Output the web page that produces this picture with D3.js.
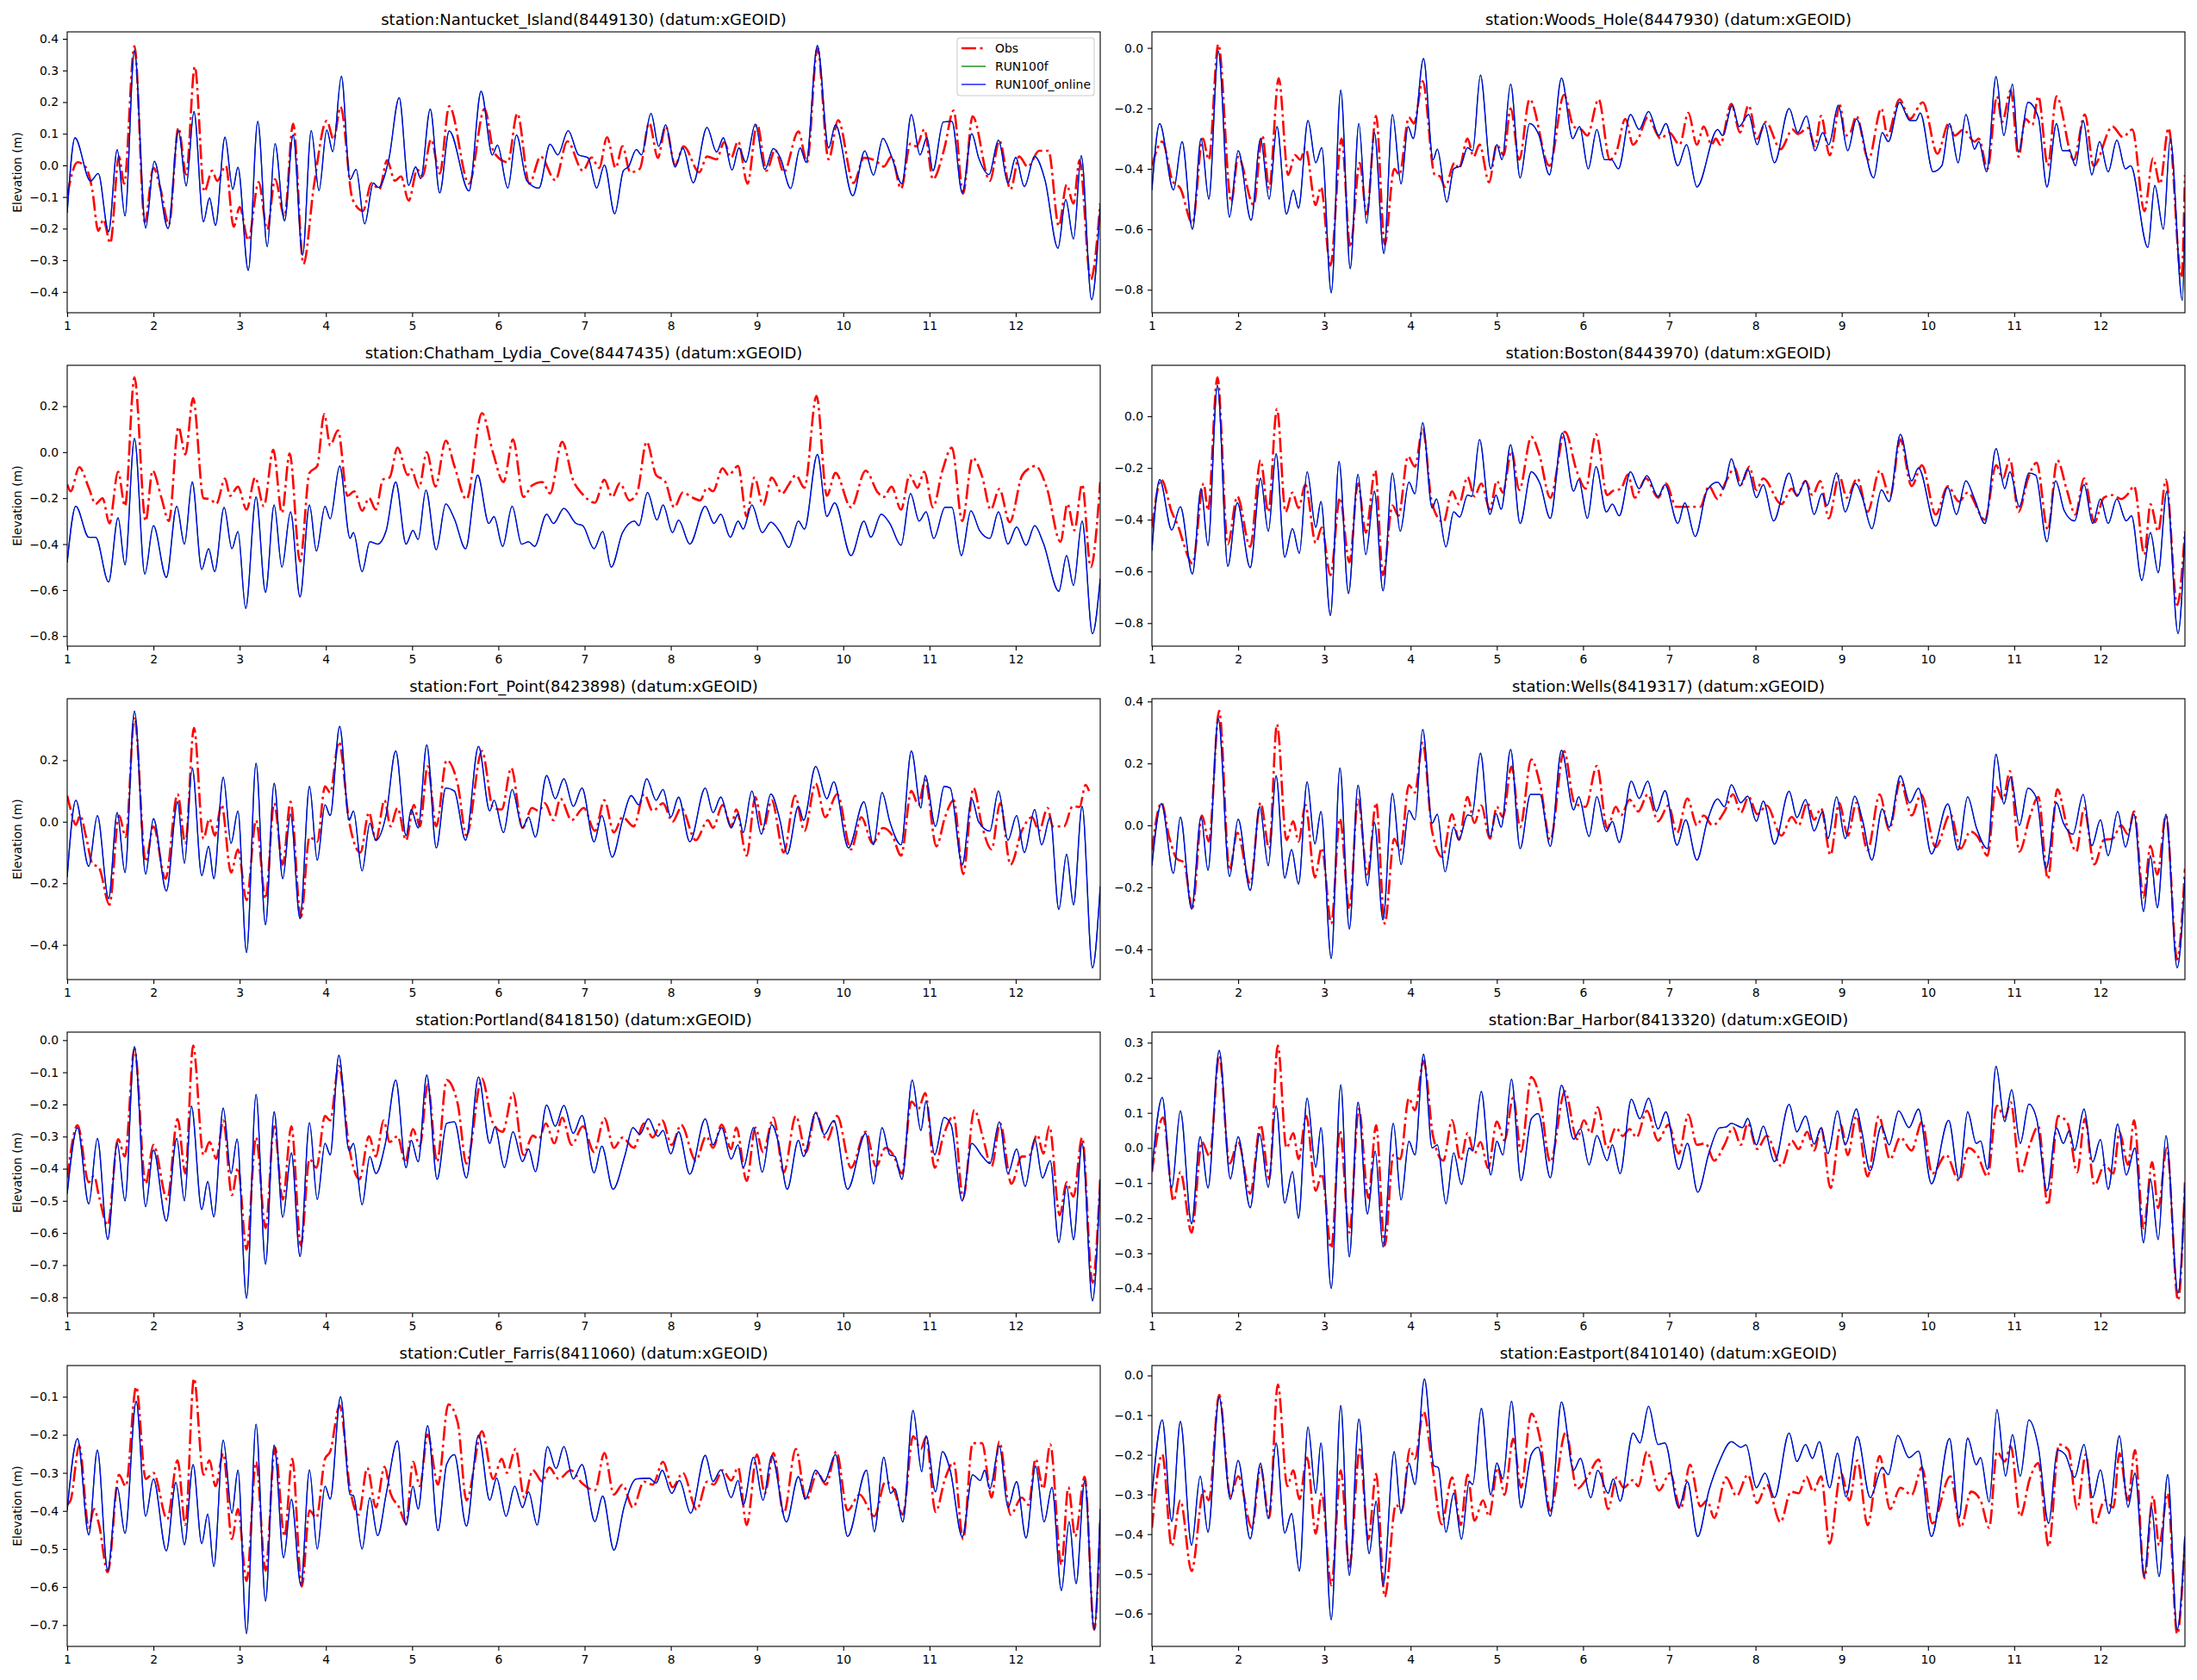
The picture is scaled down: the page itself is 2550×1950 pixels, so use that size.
<!DOCTYPE html>
<html><head><meta charset="utf-8">
<script src="https://cdn.jsdelivr.net/npm/d3@7"></script>
<style>
html,body{margin:0;padding:0;background:#fff;}
svg{display:block;font-family:"DejaVu Sans",sans-serif;}
</style></head>
<body><svg id="chart" width="2550" height="1950"></svg>
<script>
// ---------------- data ----------------
const seriesNames = ["Obs", "RUN100f", "RUN100f_online"];
const xTicks = [1,2,3,4,5,6,7,8,9,10,11,12];
const xDomain = [1, 12.98];

const stationTitles = [
  "station:Nantucket_Island(8449130) (datum:xGEOID)",
  "station:Woods_Hole(8447930) (datum:xGEOID)",
  "station:Chatham_Lydia_Cove(8447435) (datum:xGEOID)",
  "station:Boston(8443970) (datum:xGEOID)",
  "station:Fort_Point(8423898) (datum:xGEOID)",
  "station:Wells(8419317) (datum:xGEOID)",
  "station:Portland(8418150) (datum:xGEOID)",
  "station:Bar_Harbor(8413320) (datum:xGEOID)",
  "station:Cutler_Farris(8411060) (datum:xGEOID)",
  "station:Eastport(8410140) (datum:xGEOID)"
];
const yLimits = [
  [-0.466,0.422],[-0.876,0.053],[-0.844,0.378],[-0.889,0.197],[-0.513,0.40],
  [-0.498,0.409],[-0.849,0.025],[-0.47,0.33],[-0.756,-0.018],[-0.683,0.025]
];
const yTickSets = [
  [-0.4,-0.3,-0.2,-0.1,0.0,0.1,0.2,0.3,0.4],
  [-0.8,-0.6,-0.4,-0.2,0.0],
  [-0.8,-0.6,-0.4,-0.2,0.0,0.2],
  [-0.8,-0.6,-0.4,-0.2,0.0],
  [-0.4,-0.2,0.0,0.2],
  [-0.4,-0.2,0.0,0.2,0.4],
  [-0.8,-0.7,-0.6,-0.5,-0.4,-0.3,-0.2,-0.1,0.0],
  [-0.4,-0.3,-0.2,-0.1,0.0,0.1,0.2,0.3],
  [-0.7,-0.6,-0.5,-0.4,-0.3,-0.2,-0.1],
  [-0.6,-0.5,-0.4,-0.3,-0.2,-0.1,0.0]
];

const nantucketObs = [[1.0,-0.094],[1.12,0.01],[1.22,-0.008],[1.29,-0.076],[1.36,-0.207],[1.42,-0.171],[1.5,-0.246],[1.6,0.028],[1.66,-0.058],[1.78,0.377],[1.9,-0.18],[2.0,-0.008],[2.08,-0.072],[2.18,-0.187],[2.29,0.119],[2.38,-0.029],[2.48,0.312],[2.59,-0.083],[2.68,-0.017],[2.74,-0.049],[2.84,-0.002],[2.93,-0.194],[3.0,-0.132],[3.1,-0.237],[3.22,-0.053],[3.32,-0.203],[3.41,-0.044],[3.52,-0.162],[3.62,0.132],[3.74,-0.312],[3.86,-0.067],[4.01,0.141],[4.09,0.082],[4.17,0.185],[4.31,-0.108],[4.43,-0.144],[4.53,-0.056],[4.62,-0.076],[4.71,0.016],[4.8,-0.049],[4.87,-0.035],[4.96,-0.112],[5.06,-0.013],[5.12,-0.035],[5.22,0.082],[5.32,-0.026],[5.43,0.187],[5.66,-0.058],[5.84,0.179],[5.95,0.04],[6.11,0.01],[6.22,0.164],[6.36,-0.058],[6.49,0.028],[6.66,-0.047],[6.8,0.076],[6.98,-0.017],[7.08,0.025],[7.17,-0.008],[7.26,0.089],[7.36,-0.008],[7.44,0.06],[7.53,-0.022],[7.64,-0.011],[7.75,0.134],[7.85,0.024],[7.94,0.123],[8.05,0.001],[8.15,0.06],[8.33,-0.022],[8.42,0.028],[8.53,0.019],[8.62,0.073],[8.7,0.024],[8.78,0.076],[8.89,-0.058],[9.0,0.13],[9.11,-0.017],[9.21,0.049],[9.31,-0.022],[9.48,0.107],[9.58,0.01],[9.7,0.37],[9.83,0.019],[9.94,0.143],[10.12,-0.056],[10.24,0.024],[10.38,0.014],[10.47,-0.004],[10.56,0.028],[10.67,-0.074],[10.78,0.069],[10.85,0.06],[10.94,0.114],[11.04,-0.044],[11.17,0.051],[11.28,0.173],[11.39,-0.09],[11.5,0.155],[11.7,-0.049],[11.81,0.078],[11.94,-0.076],[12.04,0.028],[12.14,-0.005],[12.27,0.046],[12.38,0.046],[12.5,-0.192],[12.59,-0.061],[12.67,-0.121],[12.74,0.016],[12.87,-0.361],[12.98,-0.12]];
const nantucketModel = [[1.0,-0.15],[1.09,0.087],[1.27,-0.05],[1.36,-0.026],[1.48,-0.21],[1.58,0.05],[1.67,-0.16],[1.78,0.363],[1.91,-0.198],[2.01,0.013],[2.17,-0.2],[2.29,0.11],[2.38,-0.065],[2.47,0.17],[2.58,-0.178],[2.65,-0.103],[2.72,-0.19],[2.83,0.089],[2.92,-0.076],[2.98,-0.006],[3.1,-0.332],[3.21,0.139],[3.32,-0.257],[3.41,0.069],[3.52,-0.176],[3.62,0.096],[3.73,-0.284],[3.83,0.11],[3.92,-0.08],[4.01,0.112],[4.08,0.043],[4.18,0.282],[4.28,-0.045],[4.35,-0.013],[4.45,-0.185],[4.55,-0.056],[4.61,-0.07],[4.73,0.019],[4.85,0.214],[4.96,-0.063],[5.04,-0.005],[5.1,-0.042],[5.21,0.178],[5.32,-0.087],[5.43,0.109],[5.66,-0.081],[5.8,0.234],[5.93,0.033],[5.99,0.064],[6.11,-0.072],[6.21,0.096],[6.33,-0.049],[6.47,-0.072],[6.6,0.067],[6.69,0.033],[6.81,0.11],[6.93,0.033],[7.04,0.024],[7.14,-0.072],[7.23,0.001],[7.35,-0.153],[7.45,-0.017],[7.51,-0.004],[7.6,0.05],[7.66,0.033],[7.77,0.164],[7.86,0.06],[7.94,0.128],[8.05,-0.005],[8.14,0.055],[8.26,-0.055],[8.42,0.12],[8.53,0.042],[8.61,0.087],[8.71,-0.015],[8.79,0.055],[8.87,0.01],[8.98,0.13],[9.09,-0.013],[9.19,0.053],[9.27,0.024],[9.39,-0.073],[9.5,0.055],[9.57,0.01],[9.7,0.379],[9.83,0.055],[9.91,0.128],[10.11,-0.096],[10.25,0.046],[10.35,-0.031],[10.46,0.085],[10.56,0.028],[10.68,-0.058],[10.79,0.161],[10.89,0.033],[10.97,0.087],[11.04,-0.017],[11.16,0.137],[11.26,0.139],[11.38,-0.087],[11.49,0.1],[11.57,0.024],[11.69,-0.029],[11.8,0.08],[11.91,-0.056],[12.0,0.025],[12.1,-0.067],[12.22,0.028],[12.34,-0.047],[12.49,-0.262],[12.58,-0.108],[12.67,-0.233],[12.76,0.031],[12.88,-0.425],[12.98,-0.126]];

const woodsHoleObs = [[1.0,-0.39],[1.12,-0.31],[1.24,-0.44],[1.33,-0.465],[1.47,-0.58],[1.59,-0.3],[1.66,-0.37],[1.77,0.012],[1.92,-0.51],[2.0,-0.36],[2.18,-0.52],[2.28,-0.29],[2.36,-0.465],[2.47,-0.1],[2.58,-0.42],[2.66,-0.355],[2.72,-0.37],[2.78,-0.33],[2.9,-0.52],[2.96,-0.46],[3.07,-0.72],[3.2,-0.3],[3.3,-0.66],[3.41,-0.38],[3.49,-0.55],[3.6,-0.225],[3.7,-0.65],[3.81,-0.4],[3.87,-0.42],[3.98,-0.23],[4.04,-0.25],[4.14,-0.11],[4.28,-0.42],[4.34,-0.425],[4.4,-0.46],[4.51,-0.38],[4.56,-0.4],[4.66,-0.3],[4.73,-0.36],[4.8,-0.32],[4.91,-0.445],[5.0,-0.32],[5.08,-0.355],[5.16,-0.2],[5.26,-0.37],[5.38,-0.17],[5.61,-0.39],[5.78,-0.155],[5.89,-0.26],[5.98,-0.27],[6.05,-0.29],[6.18,-0.17],[6.31,-0.37],[6.39,-0.34],[6.49,-0.235],[6.58,-0.32],[6.64,-0.3],[6.75,-0.23],[6.9,-0.3],[7.0,-0.28],[7.12,-0.32],[7.22,-0.215],[7.32,-0.32],[7.4,-0.26],[7.49,-0.32],[7.54,-0.3],[7.59,-0.32],[7.72,-0.185],[7.82,-0.28],[7.92,-0.19],[8.02,-0.3],[8.12,-0.245],[8.29,-0.335],[8.43,-0.27],[8.49,-0.285],[8.61,-0.265],[8.69,-0.325],[8.76,-0.225],[8.86,-0.355],[8.98,-0.19],[9.04,-0.29],[9.1,-0.28],[9.17,-0.225],[9.31,-0.37],[9.46,-0.2],[9.53,-0.29],[9.67,-0.17],[9.79,-0.235],[9.94,-0.18],[10.11,-0.35],[10.24,-0.25],[10.31,-0.29],[10.41,-0.27],[10.54,-0.31],[10.59,-0.3],[10.69,-0.4],[10.8,-0.16],[10.86,-0.245],[10.96,-0.14],[11.05,-0.36],[11.13,-0.235],[11.21,-0.255],[11.28,-0.16],[11.39,-0.39],[11.49,-0.16],[11.69,-0.37],[11.82,-0.22],[11.92,-0.39],[12.14,-0.26],[12.26,-0.295],[12.37,-0.27],[12.51,-0.54],[12.61,-0.365],[12.69,-0.45],[12.79,-0.265],[12.94,-0.76],[12.98,-0.42]];
const woodsHoleModel = [[1.0,-0.47],[1.09,-0.25],[1.25,-0.47],[1.35,-0.31],[1.47,-0.6],[1.57,-0.3],[1.66,-0.5],[1.77,-0.01],[1.9,-0.56],[2.0,-0.34],[2.15,-0.57],[2.26,-0.3],[2.36,-0.5],[2.45,-0.26],[2.56,-0.55],[2.64,-0.47],[2.7,-0.53],[2.81,-0.24],[2.9,-0.38],[2.97,-0.33],[3.08,-0.81],[3.19,-0.14],[3.3,-0.73],[3.4,-0.25],[3.49,-0.58],[3.58,-0.28],[3.69,-0.68],[3.79,-0.22],[3.89,-0.45],[3.97,-0.26],[4.03,-0.3],[4.15,-0.035],[4.26,-0.37],[4.31,-0.335],[4.42,-0.51],[4.5,-0.4],[4.58,-0.39],[4.66,-0.33],[4.72,-0.34],[4.81,-0.09],[4.93,-0.4],[5.0,-0.32],[5.06,-0.37],[5.16,-0.12],[5.27,-0.43],[5.38,-0.25],[5.49,-0.29],[5.61,-0.42],[5.75,-0.1],[5.88,-0.3],[5.96,-0.26],[6.06,-0.4],[6.16,-0.27],[6.25,-0.37],[6.33,-0.37],[6.41,-0.4],[6.55,-0.22],[6.65,-0.27],[6.76,-0.21],[6.88,-0.29],[6.96,-0.25],[7.1,-0.39],[7.2,-0.32],[7.32,-0.46],[7.56,-0.27],[7.62,-0.29],[7.73,-0.19],[7.81,-0.26],[7.92,-0.22],[8.02,-0.32],[8.1,-0.25],[8.22,-0.38],[8.39,-0.2],[8.49,-0.28],[8.59,-0.225],[8.69,-0.34],[8.78,-0.28],[8.85,-0.32],[8.96,-0.19],[9.07,-0.34],[9.17,-0.235],[9.37,-0.43],[9.47,-0.28],[9.54,-0.31],[9.67,-0.18],[9.79,-0.24],[9.86,-0.24],[9.91,-0.215],[10.06,-0.41],[10.16,-0.39],[10.25,-0.25],[10.35,-0.38],[10.44,-0.22],[10.54,-0.335],[10.59,-0.31],[10.68,-0.41],[10.79,-0.095],[10.88,-0.29],[10.98,-0.12],[11.05,-0.345],[11.16,-0.18],[11.28,-0.23],[11.38,-0.46],[11.49,-0.25],[11.56,-0.34],[11.64,-0.34],[11.71,-0.39],[11.8,-0.24],[11.9,-0.42],[11.99,-0.31],[12.09,-0.41],[12.19,-0.305],[12.29,-0.4],[12.35,-0.39],[12.55,-0.66],[12.63,-0.455],[12.73,-0.6],[12.81,-0.3],[12.95,-0.835],[12.98,-0.55]];

const chathamObs = [[1.0,-0.14],[1.04,-0.17],[1.14,-0.065],[1.25,-0.155],[1.33,-0.225],[1.41,-0.2],[1.49,-0.31],[1.59,-0.085],[1.67,-0.235],[1.78,0.325],[1.91,-0.3],[1.99,-0.08],[2.09,-0.195],[2.18,-0.3],[2.29,0.11],[2.37,-0.01],[2.46,0.235],[2.58,-0.2],[2.66,-0.205],[2.73,-0.225],[2.83,-0.115],[2.89,-0.19],[2.98,-0.15],[3.08,-0.25],[3.18,-0.11],[3.28,-0.235],[3.39,0.01],[3.49,-0.265],[3.58,-0.005],[3.7,-0.475],[3.81,-0.09],[3.9,-0.06],[3.98,0.165],[4.05,0.03],[4.14,0.095],[4.25,-0.19],[4.33,-0.17],[4.42,-0.255],[4.5,-0.2],[4.58,-0.25],[4.66,-0.12],[4.74,-0.11],[4.83,0.02],[4.95,-0.1],[4.99,-0.075],[5.08,-0.155],[5.17,0.0],[5.27,-0.15],[5.39,0.05],[5.49,-0.06],[5.63,-0.205],[5.81,0.17],[5.94,-0.005],[6.06,-0.13],[6.17,0.055],[6.29,-0.195],[6.39,-0.145],[6.51,-0.13],[6.6,-0.18],[6.74,0.045],[6.87,-0.125],[6.97,-0.18],[7.12,-0.22],[7.23,-0.12],[7.32,-0.195],[7.41,-0.135],[7.52,-0.21],[7.61,-0.175],[7.72,0.045],[7.83,-0.1],[7.93,-0.125],[8.04,-0.24],[8.14,-0.175],[8.24,-0.195],[8.34,-0.21],[8.42,-0.155],[8.49,-0.17],[8.6,-0.07],[8.67,-0.1],[8.78,-0.06],[8.88,-0.28],[8.97,-0.11],[9.07,-0.23],[9.17,-0.11],[9.29,-0.18],[9.37,-0.14],[9.45,-0.1],[9.55,-0.155],[9.69,0.245],[9.81,-0.19],[9.91,-0.09],[10.09,-0.24],[10.26,-0.08],[10.4,-0.175],[10.47,-0.195],[10.56,-0.15],[10.67,-0.25],[10.77,-0.1],[10.86,-0.155],[10.94,-0.085],[11.04,-0.24],[11.15,-0.08],[11.26,0.02],[11.38,-0.3],[11.5,-0.025],[11.61,-0.105],[11.71,-0.25],[11.81,-0.16],[11.93,-0.305],[12.07,-0.105],[12.16,-0.07],[12.23,-0.06],[12.36,-0.155],[12.52,-0.39],[12.6,-0.225],[12.68,-0.34],[12.77,-0.14],[12.87,-0.5],[12.98,-0.13]];
const chathamModel = [[1.0,-0.48],[1.1,-0.235],[1.25,-0.37],[1.33,-0.37],[1.48,-0.565],[1.59,-0.285],[1.67,-0.49],[1.78,0.06],[1.9,-0.53],[2.0,-0.32],[2.15,-0.545],[2.27,-0.235],[2.36,-0.4],[2.45,-0.13],[2.56,-0.51],[2.64,-0.42],[2.71,-0.52],[2.82,-0.24],[2.91,-0.42],[2.98,-0.345],[3.07,-0.68],[3.19,-0.195],[3.3,-0.61],[3.4,-0.23],[3.49,-0.5],[3.59,-0.26],[3.7,-0.63],[3.81,-0.23],[3.89,-0.43],[3.99,-0.235],[4.05,-0.29],[4.16,-0.06],[4.28,-0.375],[4.32,-0.35],[4.42,-0.52],[4.51,-0.39],[4.6,-0.4],[4.7,-0.34],[4.81,-0.13],[4.93,-0.4],[5.01,-0.34],[5.07,-0.38],[5.16,-0.165],[5.28,-0.425],[5.39,-0.225],[5.49,-0.29],[5.62,-0.42],[5.76,-0.1],[5.89,-0.31],[5.95,-0.28],[6.05,-0.41],[6.16,-0.235],[6.27,-0.4],[6.35,-0.39],[6.42,-0.41],[6.56,-0.27],[6.64,-0.31],[6.76,-0.245],[6.9,-0.31],[6.98,-0.32],[7.11,-0.42],[7.21,-0.345],[7.31,-0.5],[7.44,-0.35],[7.58,-0.3],[7.63,-0.32],[7.73,-0.175],[7.84,-0.295],[7.91,-0.23],[8.02,-0.35],[8.09,-0.295],[8.22,-0.4],[8.4,-0.235],[8.5,-0.31],[8.58,-0.27],[8.69,-0.37],[8.78,-0.3],[8.84,-0.335],[8.94,-0.23],[9.06,-0.35],[9.16,-0.305],[9.27,-0.35],[9.37,-0.415],[9.48,-0.3],[9.55,-0.335],[9.7,-0.01],[9.81,-0.28],[9.9,-0.22],[10.09,-0.45],[10.24,-0.3],[10.32,-0.37],[10.44,-0.27],[10.54,-0.31],[10.67,-0.405],[10.78,-0.18],[10.88,-0.3],[10.96,-0.26],[11.05,-0.375],[11.18,-0.24],[11.26,-0.24],[11.37,-0.45],[11.48,-0.255],[11.58,-0.34],[11.7,-0.375],[11.8,-0.26],[11.91,-0.4],[12.01,-0.325],[12.12,-0.405],[12.22,-0.32],[12.32,-0.395],[12.5,-0.605],[12.59,-0.45],[12.67,-0.58],[12.77,-0.3],[12.89,-0.79],[12.98,-0.55]];

const bostonObs = [[1.0,-0.43],[1.11,-0.245],[1.23,-0.37],[1.31,-0.43],[1.37,-0.495],[1.47,-0.57],[1.6,-0.26],[1.65,-0.365],[1.76,0.15],[1.88,-0.495],[1.99,-0.31],[2.14,-0.505],[2.26,-0.17],[2.35,-0.37],[2.45,0.028],[2.55,-0.37],[2.63,-0.295],[2.7,-0.355],[2.78,-0.265],[2.9,-0.49],[2.97,-0.43],[3.07,-0.615],[3.18,-0.315],[3.29,-0.565],[3.39,-0.26],[3.48,-0.45],[3.59,-0.21],[3.68,-0.615],[3.79,-0.345],[3.86,-0.385],[3.97,-0.155],[4.05,-0.195],[4.14,-0.05],[4.25,-0.34],[4.38,-0.41],[4.48,-0.29],[4.56,-0.34],[4.66,-0.235],[4.74,-0.31],[4.82,-0.26],[4.92,-0.36],[5.0,-0.25],[5.07,-0.295],[5.17,-0.135],[5.26,-0.285],[5.4,-0.08],[5.49,-0.145],[5.62,-0.315],[5.79,-0.06],[5.93,-0.215],[6.03,-0.28],[6.15,-0.07],[6.28,-0.305],[6.34,-0.29],[6.44,-0.28],[6.52,-0.225],[6.6,-0.315],[6.73,-0.24],[6.87,-0.315],[6.96,-0.26],[7.08,-0.35],[7.36,-0.35],[7.46,-0.27],[7.56,-0.32],[7.66,-0.25],[7.76,-0.2],[7.83,-0.265],[7.93,-0.195],[8.01,-0.285],[8.09,-0.24],[8.3,-0.34],[8.42,-0.28],[8.48,-0.305],[8.58,-0.25],[8.66,-0.305],[8.75,-0.25],[8.85,-0.395],[8.97,-0.23],[9.06,-0.315],[9.18,-0.24],[9.3,-0.37],[9.44,-0.21],[9.56,-0.31],[9.68,-0.09],[9.81,-0.27],[9.93,-0.19],[10.09,-0.38],[10.23,-0.27],[10.36,-0.33],[10.46,-0.295],[10.66,-0.4],[10.79,-0.19],[10.87,-0.24],[10.95,-0.165],[11.05,-0.37],[11.16,-0.24],[11.26,-0.18],[11.39,-0.44],[11.5,-0.17],[11.61,-0.285],[11.71,-0.38],[11.81,-0.24],[11.93,-0.41],[12.04,-0.315],[12.14,-0.305],[12.24,-0.32],[12.32,-0.3],[12.39,-0.27],[12.51,-0.535],[12.58,-0.34],[12.67,-0.445],[12.76,-0.245],[12.89,-0.73],[12.98,-0.445]];
const bostonModel = [[1.0,-0.52],[1.09,-0.245],[1.23,-0.44],[1.33,-0.35],[1.47,-0.61],[1.57,-0.28],[1.65,-0.5],[1.76,0.12],[1.88,-0.58],[1.99,-0.335],[2.14,-0.585],[2.26,-0.24],[2.35,-0.445],[2.44,-0.145],[2.54,-0.545],[2.63,-0.435],[2.71,-0.53],[2.8,-0.215],[2.9,-0.43],[2.96,-0.33],[3.07,-0.77],[3.17,-0.175],[3.28,-0.685],[3.39,-0.225],[3.48,-0.535],[3.58,-0.29],[3.68,-0.675],[3.79,-0.22],[3.88,-0.445],[3.98,-0.255],[4.05,-0.3],[4.14,-0.025],[4.25,-0.355],[4.3,-0.32],[4.41,-0.505],[4.5,-0.37],[4.57,-0.39],[4.66,-0.305],[4.71,-0.31],[4.8,-0.09],[4.92,-0.38],[4.99,-0.305],[5.05,-0.36],[5.16,-0.11],[5.27,-0.415],[5.4,-0.215],[5.5,-0.26],[5.62,-0.395],[5.76,-0.065],[5.89,-0.29],[5.95,-0.245],[6.05,-0.395],[6.15,-0.195],[6.27,-0.37],[6.34,-0.34],[6.42,-0.385],[6.55,-0.215],[6.65,-0.28],[6.74,-0.23],[6.87,-0.31],[6.95,-0.265],[7.1,-0.415],[7.18,-0.335],[7.3,-0.465],[7.44,-0.285],[7.56,-0.255],[7.63,-0.28],[7.72,-0.165],[7.82,-0.27],[7.91,-0.205],[8.01,-0.315],[8.09,-0.265],[8.21,-0.405],[8.39,-0.22],[8.48,-0.31],[8.58,-0.25],[8.68,-0.38],[8.77,-0.3],[8.83,-0.345],[8.94,-0.22],[9.04,-0.37],[9.16,-0.26],[9.24,-0.315],[9.35,-0.435],[9.46,-0.285],[9.55,-0.33],[9.68,-0.07],[9.81,-0.25],[9.89,-0.2],[10.09,-0.425],[10.23,-0.275],[10.33,-0.38],[10.44,-0.25],[10.54,-0.32],[10.66,-0.415],[10.79,-0.125],[10.89,-0.28],[10.95,-0.215],[11.06,-0.35],[11.17,-0.22],[11.25,-0.228],[11.38,-0.485],[11.48,-0.25],[11.58,-0.365],[11.7,-0.405],[11.81,-0.265],[11.91,-0.415],[12.0,-0.32],[12.09,-0.415],[12.19,-0.32],[12.3,-0.405],[12.36,-0.385],[12.48,-0.635],[12.58,-0.45],[12.67,-0.605],[12.77,-0.29],[12.9,-0.84],[12.98,-0.45]];

const fortPointObs = [[1.0,0.085],[1.04,0.04],[1.1,-0.01],[1.15,0.02],[1.22,-0.05],[1.29,-0.135],[1.37,-0.15],[1.49,-0.27],[1.6,0.02],[1.68,-0.05],[1.78,0.34],[1.91,-0.13],[2.0,-0.015],[2.14,-0.185],[2.28,0.09],[2.37,-0.07],[2.47,0.305],[2.58,-0.055],[2.65,0.01],[2.71,-0.045],[2.79,0.055],[2.9,-0.165],[2.98,-0.09],[3.08,-0.255],[3.19,0.005],[3.3,-0.25],[3.4,0.06],[3.5,-0.14],[3.59,0.065],[3.71,-0.31],[3.81,-0.05],[3.9,-0.065],[3.99,0.115],[4.05,0.095],[4.15,0.26],[4.27,0.0],[4.4,-0.1],[4.5,0.03],[4.58,-0.06],[4.68,0.07],[4.75,-0.015],[4.83,0.045],[4.93,-0.06],[5.02,0.055],[5.09,-0.015],[5.18,0.18],[5.28,-0.015],[5.4,0.2],[5.53,0.12],[5.63,-0.045],[5.81,0.23],[5.94,0.045],[6.04,0.04],[6.15,0.175],[6.28,-0.02],[6.39,0.045],[6.47,0.035],[6.54,0.06],[6.64,0.005],[6.72,0.075],[6.85,0.005],[6.99,0.045],[7.12,-0.03],[7.23,0.07],[7.34,-0.035],[7.44,0.015],[7.57,-0.015],[7.69,0.09],[7.79,0.035],[7.91,0.06],[8.02,0.0],[8.12,0.045],[8.29,-0.06],[8.43,0.005],[8.49,-0.02],[8.6,0.055],[8.7,-0.015],[8.76,0.04],[8.88,-0.11],[8.98,0.08],[9.07,-0.025],[9.17,0.07],[9.31,-0.1],[9.44,0.085],[9.55,-0.03],[9.68,0.125],[9.79,0.015],[9.93,0.09],[10.09,-0.09],[10.21,0.015],[10.34,-0.07],[10.46,-0.02],[10.57,-0.045],[10.67,-0.11],[10.79,0.1],[10.87,0.055],[10.95,0.135],[11.08,-0.08],[11.18,0.015],[11.28,0.07],[11.39,-0.17],[11.51,0.11],[11.61,-0.015],[11.72,-0.09],[11.82,0.06],[11.94,-0.14],[12.07,-0.03],[12.19,0.015],[12.27,-0.03],[12.37,0.045],[12.43,-0.015],[12.56,-0.015],[12.66,0.05],[12.74,0.048],[12.81,0.12],[12.85,0.1]];
const fortPointModel = [[1.0,-0.18],[1.1,0.07],[1.25,-0.145],[1.35,0.02],[1.48,-0.25],[1.58,0.03],[1.67,-0.165],[1.78,0.36],[1.91,-0.17],[2.0,0.01],[2.15,-0.225],[2.28,0.065],[2.36,-0.135],[2.45,0.175],[2.56,-0.175],[2.64,-0.08],[2.7,-0.185],[2.81,0.145],[2.9,-0.07],[2.98,0.035],[3.08,-0.425],[3.19,0.19],[3.3,-0.335],[3.4,0.125],[3.5,-0.185],[3.59,0.025],[3.7,-0.315],[3.81,0.115],[3.9,-0.125],[3.99,0.055],[4.05,0.02],[4.16,0.31],[4.27,0.005],[4.32,0.035],[4.42,-0.16],[4.51,-0.005],[4.58,-0.06],[4.7,0.025],[4.81,0.23],[4.93,-0.045],[4.99,0.04],[5.07,-0.02],[5.17,0.25],[5.28,-0.085],[5.39,0.11],[5.49,0.1],[5.62,-0.06],[5.77,0.245],[5.9,0.035],[5.95,0.07],[6.06,-0.035],[6.16,0.105],[6.28,-0.02],[6.35,0.015],[6.43,-0.05],[6.56,0.15],[6.66,0.075],[6.76,0.14],[6.87,0.05],[6.97,0.11],[7.11,-0.065],[7.2,0.02],[7.32,-0.115],[7.44,0.005],[7.54,0.085],[7.63,0.055],[7.72,0.14],[7.83,0.07],[7.91,0.105],[8.0,0.015],[8.09,0.08],[8.22,-0.065],[8.4,0.11],[8.49,0.03],[8.58,0.08],[8.7,-0.02],[8.78,0.025],[8.84,-0.035],[8.94,0.1],[9.05,-0.04],[9.16,0.09],[9.27,0.0],[9.35,-0.105],[9.48,0.05],[9.54,0.005],[9.68,0.18],[9.81,0.075],[9.89,0.13],[10.06,-0.085],[10.24,0.065],[10.35,-0.075],[10.45,0.095],[10.54,0.0],[10.67,-0.075],[10.79,0.23],[10.9,0.045],[10.95,0.15],[11.07,-0.015],[11.17,0.115],[11.24,0.11],[11.38,-0.14],[11.49,0.075],[11.57,0.0],[11.7,-0.03],[11.8,0.1],[11.91,-0.06],[12.01,0.02],[12.1,-0.1],[12.22,0.04],[12.3,-0.075],[12.4,0.015],[12.5,-0.285],[12.59,-0.105],[12.67,-0.27],[12.77,0.05],[12.89,-0.475],[12.98,-0.21]];

const wellsObs = [[1.0,-0.08],[1.11,0.073],[1.2,-0.038],[1.29,-0.108],[1.37,-0.12],[1.47,-0.266],[1.58,0.032],[1.66,-0.052],[1.78,0.37],[1.9,-0.145],[1.99,-0.024],[2.14,-0.187],[2.26,0.073],[2.36,-0.075],[2.45,0.326],[2.56,-0.047],[2.64,0.013],[2.7,-0.052],[2.78,0.066],[2.89,-0.168],[2.97,-0.073],[3.08,-0.317],[3.18,0.022],[3.29,-0.27],[3.39,0.083],[3.5,-0.159],[3.6,0.073],[3.7,-0.317],[3.81,-0.043],[3.88,-0.08],[3.98,0.13],[4.05,0.106],[4.14,0.267],[4.25,-0.02],[4.37,-0.103],[4.48,0.036],[4.56,-0.047],[4.66,0.092],[4.74,0.008],[4.82,0.064],[4.92,-0.043],[5.0,0.06],[5.07,0.027],[5.17,0.19],[5.27,-0.006],[5.4,0.213],[5.5,0.134],[5.62,-0.047],[5.78,0.24],[5.9,0.073],[6.03,0.06],[6.16,0.192],[6.28,-0.01],[6.38,0.06],[6.44,0.032],[6.54,0.083],[6.64,0.045],[6.75,0.1],[6.87,0.013],[6.99,0.064],[7.09,-0.024],[7.21,0.087],[7.32,0.0],[7.4,0.032],[7.5,0.0],[7.64,0.045],[7.74,0.1],[7.83,0.041],[7.92,0.092],[8.02,0.036],[8.13,0.064],[8.3,-0.033],[8.42,0.027],[8.5,0.0],[8.6,0.073],[8.68,0.018],[8.76,0.055],[8.87,-0.096],[8.97,0.073],[9.07,-0.033],[9.17,0.073],[9.3,-0.08],[9.44,0.1],[9.55,-0.015],[9.68,0.143],[9.81,0.032],[9.92,0.1],[10.09,-0.07],[10.26,0.036],[10.38,-0.075],[10.49,-0.02],[10.58,-0.038],[10.69,-0.098],[10.79,0.125],[10.87,0.083],[10.95,0.175],[11.06,-0.085],[11.18,0.027],[11.28,0.092],[11.39,-0.173],[11.5,0.117],[11.61,0.0],[11.72,-0.085],[11.81,0.055],[11.93,-0.126],[12.04,-0.047],[12.14,-0.043],[12.24,0.0],[12.32,-0.029],[12.39,0.045],[12.5,-0.233],[12.58,-0.066],[12.66,-0.159],[12.76,0.032],[12.89,-0.433],[12.98,-0.14]];
const wellsModel = [[1.0,-0.13],[1.11,0.07],[1.25,-0.155],[1.33,0.027],[1.46,-0.27],[1.57,0.027],[1.65,-0.145],[1.77,0.345],[1.9,-0.165],[2.0,0.02],[2.14,-0.21],[2.25,0.06],[2.35,-0.13],[2.44,0.16],[2.54,-0.17],[2.62,-0.078],[2.7,-0.19],[2.8,0.14],[2.89,-0.06],[2.96,0.045],[3.08,-0.43],[3.18,0.185],[3.29,-0.335],[3.39,0.13],[3.5,-0.195],[3.58,0.01],[3.68,-0.305],[3.79,0.103],[3.89,-0.127],[3.98,0.048],[4.05,0.018],[4.14,0.31],[4.25,0.007],[4.31,0.036],[4.4,-0.15],[4.5,-0.006],[4.56,-0.047],[4.66,0.034],[4.71,0.03],[4.81,0.233],[4.92,-0.038],[4.99,0.038],[5.05,-0.006],[5.16,0.245],[5.27,-0.075],[5.39,0.1],[5.5,0.1],[5.62,-0.068],[5.75,0.242],[5.89,0.05],[5.95,0.092],[6.07,-0.036],[6.16,0.092],[6.27,-0.02],[6.34,0.013],[6.42,-0.055],[6.56,0.143],[6.65,0.087],[6.75,0.143],[6.85,0.045],[6.95,0.112],[7.09,-0.064],[7.19,0.018],[7.32,-0.112],[7.44,0.013],[7.56,0.085],[7.64,0.06],[7.72,0.131],[7.83,0.073],[7.91,0.094],[8.01,0.013],[8.09,0.078],[8.22,-0.061],[8.39,0.11],[8.48,0.025],[8.58,0.083],[8.68,-0.018],[8.78,0.045],[8.84,-0.043],[8.94,0.092],[9.04,-0.043],[9.15,0.094],[9.24,0.018],[9.35,-0.112],[9.47,0.053],[9.55,-0.006],[9.68,0.16],[9.79,0.073],[9.89,0.12],[10.04,-0.092],[10.23,0.069],[10.35,-0.08],[10.46,0.092],[10.56,-0.006],[10.69,-0.075],[10.79,0.23],[10.88,0.069],[10.96,0.157],[11.06,0.0],[11.16,0.12],[11.26,0.087],[11.37,-0.14],[11.49,0.073],[11.57,0.008],[11.68,-0.029],[11.8,0.1],[11.9,-0.066],[12.0,0.018],[12.09,-0.098],[12.2,0.045],[12.29,-0.07],[12.39,0.036],[12.5,-0.278],[12.58,-0.098],[12.66,-0.266],[12.76,0.036],[12.89,-0.46],[12.98,-0.168]];

const portlandObs = [[1.0,-0.429],[1.12,-0.265],[1.25,-0.442],[1.31,-0.422],[1.37,-0.487],[1.47,-0.576],[1.59,-0.308],[1.67,-0.362],[1.78,-0.026],[1.91,-0.447],[2.0,-0.326],[2.16,-0.496],[2.28,-0.245],[2.37,-0.415],[2.46,-0.017],[2.58,-0.357],[2.65,-0.317],[2.73,-0.369],[2.81,-0.25],[2.91,-0.482],[2.98,-0.397],[3.08,-0.652],[3.19,-0.303],[3.3,-0.585],[3.4,-0.268],[3.5,-0.496],[3.6,-0.268],[3.71,-0.639],[3.81,-0.37],[3.89,-0.397],[3.99,-0.236],[4.05,-0.25],[4.15,-0.08],[4.27,-0.335],[4.39,-0.433],[4.5,-0.299],[4.58,-0.362],[4.67,-0.25],[4.74,-0.317],[4.83,-0.299],[4.92,-0.379],[5.01,-0.277],[5.09,-0.33],[5.18,-0.138],[5.29,-0.379],[5.4,-0.124],[5.53,-0.2],[5.63,-0.384],[5.81,-0.12],[5.93,-0.254],[6.05,-0.285],[6.17,-0.165],[6.29,-0.357],[6.4,-0.297],[6.47,-0.308],[6.55,-0.259],[6.65,-0.321],[6.74,-0.241],[6.85,-0.326],[6.98,-0.268],[7.11,-0.348],[7.23,-0.243],[7.34,-0.335],[7.44,-0.303],[7.57,-0.335],[7.69,-0.259],[7.79,-0.303],[7.9,-0.25],[8.01,-0.326],[8.12,-0.263],[8.29,-0.375],[8.41,-0.299],[8.49,-0.335],[8.59,-0.263],[8.7,-0.339],[8.76,-0.272],[8.88,-0.438],[8.98,-0.272],[9.07,-0.348],[9.19,-0.241],[9.31,-0.411],[9.45,-0.236],[9.57,-0.348],[9.68,-0.226],[9.81,-0.312],[9.93,-0.236],[10.09,-0.397],[10.26,-0.285],[10.38,-0.393],[10.49,-0.335],[10.58,-0.357],[10.68,-0.415],[10.79,-0.191],[10.87,-0.214],[10.95,-0.165],[11.06,-0.397],[11.16,-0.299],[11.28,-0.236],[11.39,-0.491],[11.52,-0.217],[11.62,-0.303],[11.72,-0.393],[11.82,-0.259],[11.95,-0.447],[12.07,-0.362],[12.15,-0.362],[12.25,-0.294],[12.32,-0.353],[12.39,-0.268],[12.51,-0.545],[12.59,-0.442],[12.67,-0.487],[12.77,-0.303],[12.89,-0.755],[12.98,-0.429]];
const portlandModel = [[1.0,-0.478],[1.12,-0.272],[1.25,-0.51],[1.35,-0.306],[1.47,-0.62],[1.58,-0.32],[1.67,-0.5],[1.78,-0.02],[1.91,-0.518],[2.0,-0.342],[2.15,-0.563],[2.27,-0.306],[2.36,-0.5],[2.44,-0.205],[2.56,-0.527],[2.63,-0.44],[2.7,-0.55],[2.81,-0.211],[2.9,-0.415],[2.97,-0.308],[3.08,-0.803],[3.19,-0.169],[3.3,-0.697],[3.4,-0.223],[3.5,-0.551],[3.6,-0.351],[3.7,-0.673],[3.81,-0.257],[3.9,-0.496],[3.99,-0.321],[4.05,-0.357],[4.15,-0.047],[4.27,-0.344],[4.32,-0.321],[4.42,-0.512],[4.51,-0.362],[4.58,-0.415],[4.69,-0.321],[4.81,-0.124],[4.93,-0.397],[4.99,-0.312],[5.07,-0.379],[5.17,-0.109],[5.29,-0.433],[5.4,-0.259],[5.49,-0.254],[5.63,-0.429],[5.77,-0.115],[5.9,-0.321],[5.96,-0.27],[6.07,-0.396],[6.17,-0.285],[6.28,-0.378],[6.35,-0.339],[6.43,-0.409],[6.56,-0.202],[6.66,-0.268],[6.76,-0.203],[6.87,-0.29],[6.97,-0.234],[7.11,-0.413],[7.2,-0.33],[7.33,-0.464],[7.47,-0.357],[7.56,-0.272],[7.64,-0.293],[7.74,-0.245],[7.85,-0.299],[7.91,-0.281],[8.0,-0.354],[8.09,-0.285],[8.22,-0.417],[8.4,-0.245],[8.49,-0.326],[8.59,-0.272],[8.7,-0.37],[8.78,-0.326],[8.84,-0.397],[8.96,-0.272],[9.06,-0.411],[9.17,-0.263],[9.25,-0.321],[9.35,-0.464],[9.48,-0.312],[9.54,-0.362],[9.68,-0.226],[9.78,-0.294],[9.89,-0.25],[10.05,-0.464],[10.26,-0.29],[10.35,-0.447],[10.45,-0.272],[10.54,-0.357],[10.6,-0.362],[10.68,-0.433],[10.8,-0.124],[10.9,-0.281],[10.96,-0.19],[11.06,-0.357],[11.17,-0.241],[11.25,-0.263],[11.38,-0.5],[11.49,-0.321],[11.6,-0.357],[11.7,-0.384],[11.81,-0.254],[11.91,-0.415],[12.01,-0.339],[12.11,-0.455],[12.22,-0.308],[12.31,-0.429],[12.4,-0.375],[12.5,-0.63],[12.59,-0.453],[12.67,-0.621],[12.77,-0.321],[12.89,-0.811],[12.98,-0.433]];

const barHarborObs = [[1.0,-0.069],[1.13,0.087],[1.25,-0.151],[1.33,-0.069],[1.46,-0.241],[1.58,0.017],[1.67,-0.024],[1.78,0.263],[1.9,-0.044],[2.0,0.017],[2.14,-0.13],[2.26,0.066],[2.36,-0.089],[2.46,0.292],[2.56,0.0],[2.64,0.042],[2.7,-0.032],[2.79,0.091],[2.9,-0.122],[2.97,-0.073],[3.08,-0.286],[3.18,0.05],[3.29,-0.241],[3.4,0.111],[3.51,-0.143],[3.6,0.065],[3.7,-0.278],[3.8,-0.02],[3.88,-0.032],[3.98,0.142],[4.05,0.107],[4.15,0.248],[4.26,0.034],[4.38,-0.036],[4.48,0.079],[4.58,-0.036],[4.66,0.042],[4.74,-0.016],[4.81,0.017],[4.9,-0.057],[5.0,0.075],[5.09,0.021],[5.19,0.144],[5.28,-0.011],[5.4,0.202],[5.5,0.14],[5.62,-0.04],[5.79,0.161],[5.93,0.025],[6.01,0.079],[6.09,0.042],[6.17,0.116],[6.28,0.0],[6.38,0.058],[6.46,0.034],[6.54,0.054],[6.62,0.03],[6.74,0.106],[6.87,0.021],[6.99,0.066],[7.11,-0.016],[7.22,0.095],[7.32,0.009],[7.42,0.013],[7.52,-0.036],[7.64,0.009],[7.74,0.058],[7.83,0.009],[7.91,0.07],[8.02,-0.003],[8.13,0.035],[8.3,-0.052],[8.42,0.021],[8.5,-0.003],[8.6,0.046],[8.68,-0.007],[8.76,0.058],[8.87,-0.114],[8.99,0.066],[9.07,-0.02],[9.17,0.091],[9.3,-0.081],[9.43,0.091],[9.56,-0.032],[9.68,0.03],[9.81,-0.007],[9.93,0.075],[10.05,-0.073],[10.21,-0.02],[10.36,-0.093],[10.47,0.0],[10.58,-0.024],[10.69,-0.081],[10.8,0.12],[10.89,0.087],[10.96,0.13],[11.07,-0.073],[11.18,0.009],[11.28,0.062],[11.39,-0.163],[11.51,0.091],[11.62,0.07],[11.73,-0.069],[11.82,0.083],[11.93,-0.106],[12.05,-0.048],[12.15,-0.073],[12.22,0.046],[12.32,-0.048],[12.39,0.079],[12.5,-0.229],[12.6,-0.04],[12.67,-0.171],[12.77,0.0],[12.9,-0.434],[12.98,-0.098]];
const barHarborModel = [[1.0,-0.065],[1.12,0.144],[1.23,-0.114],[1.33,0.106],[1.46,-0.216],[1.56,0.032],[1.65,-0.114],[1.78,0.278],[1.91,-0.088],[2.0,0.032],[2.14,-0.17],[2.25,0.04],[2.35,-0.112],[2.44,0.12],[2.54,-0.157],[2.63,-0.067],[2.7,-0.2],[2.8,0.142],[2.9,-0.055],[2.96,0.058],[3.08,-0.4],[3.19,0.18],[3.29,-0.31],[3.39,0.13],[3.5,-0.188],[3.59,-0.009],[3.68,-0.282],[3.8,0.07],[3.89,-0.148],[3.98,0.019],[4.05,-0.02],[4.15,0.267],[4.25,0.0],[4.31,0.009],[4.41,-0.159],[4.5,-0.014],[4.59,-0.104],[4.68,0.0],[4.72,-0.008],[4.82,0.161],[4.93,-0.077],[5.0,0.019],[5.07,-0.02],[5.17,0.196],[5.28,-0.093],[5.4,0.083],[5.48,0.098],[5.62,-0.085],[5.75,0.179],[5.89,0.025],[5.97,0.054],[6.07,-0.048],[6.16,0.035],[6.28,-0.036],[6.34,0.009],[6.43,-0.073],[6.56,0.139],[6.66,0.083],[6.76,0.142],[6.87,0.054],[6.96,0.103],[7.11,-0.061],[7.21,0.013],[7.33,-0.126],[7.46,-0.014],[7.58,0.057],[7.66,0.06],[7.72,0.07],[7.85,0.058],[7.91,0.084],[8.01,0.009],[8.09,0.062],[8.22,-0.039],[8.39,0.124],[8.48,0.046],[8.58,0.091],[8.68,0.011],[8.76,0.057],[8.84,-0.016],[8.95,0.106],[9.04,0.009],[9.17,0.111],[9.23,0.05],[9.33,-0.065],[9.46,0.062],[9.55,0.009],[9.66,0.106],[9.78,0.058],[9.89,0.111],[10.04,-0.102],[10.24,0.079],[10.36,-0.088],[10.46,0.103],[10.56,0.013],[10.61,0.02],[10.69,-0.061],[10.79,0.233],[10.89,0.075],[10.97,0.166],[11.07,0.013],[11.17,0.125],[11.26,0.083],[11.38,-0.122],[11.49,0.057],[11.57,0.013],[11.64,0.05],[11.7,-0.007],[11.81,0.111],[11.91,-0.04],[12.0,0.024],[12.09,-0.118],[12.2,0.068],[12.3,-0.077],[12.4,0.0],[12.5,-0.27],[12.58,-0.088],[12.67,-0.261],[12.76,0.035],[12.9,-0.413],[12.98,-0.106]];

const cutlerObs = [[1.0,-0.384],[1.04,-0.372],[1.14,-0.229],[1.25,-0.444],[1.31,-0.395],[1.37,-0.437],[1.47,-0.561],[1.6,-0.305],[1.68,-0.335],[1.8,-0.074],[1.91,-0.316],[2.0,-0.3],[2.16,-0.422],[2.28,-0.267],[2.37,-0.437],[2.47,-0.052],[2.58,-0.305],[2.65,-0.267],[2.72,-0.335],[2.81,-0.249],[2.91,-0.474],[2.98,-0.395],[3.08,-0.584],[3.19,-0.271],[3.3,-0.557],[3.41,-0.233],[3.52,-0.467],[3.61,-0.263],[3.72,-0.599],[3.81,-0.399],[3.89,-0.418],[3.99,-0.263],[4.05,-0.244],[4.16,-0.123],[4.28,-0.342],[4.38,-0.41],[4.48,-0.287],[4.58,-0.391],[4.68,-0.284],[4.75,-0.354],[4.85,-0.391],[4.93,-0.433],[5.01,-0.271],[5.09,-0.335],[5.18,-0.199],[5.3,-0.331],[5.42,-0.12],[5.53,-0.169],[5.63,-0.372],[5.81,-0.191],[5.94,-0.316],[6.04,-0.263],[6.1,-0.3],[6.2,-0.237],[6.3,-0.365],[6.4,-0.293],[6.51,-0.323],[6.59,-0.286],[6.7,-0.316],[6.84,-0.293],[6.97,-0.327],[7.12,-0.346],[7.23,-0.248],[7.34,-0.357],[7.44,-0.331],[7.56,-0.391],[7.69,-0.323],[7.79,-0.331],[7.91,-0.271],[8.02,-0.338],[8.14,-0.3],[8.3,-0.397],[8.42,-0.323],[8.5,-0.331],[8.6,-0.293],[8.7,-0.32],[8.78,-0.286],[8.88,-0.437],[9.0,-0.252],[9.09,-0.354],[9.19,-0.248],[9.31,-0.406],[9.45,-0.237],[9.57,-0.372],[9.7,-0.3],[9.8,-0.331],[9.92,-0.244],[10.05,-0.399],[10.19,-0.357],[10.36,-0.414],[10.49,-0.323],[10.59,-0.346],[10.69,-0.41],[10.81,-0.204],[10.9,-0.237],[10.96,-0.206],[11.07,-0.403],[11.18,-0.316],[11.28,-0.272],[11.39,-0.474],[11.5,-0.222],[11.61,-0.222],[11.72,-0.365],[11.81,-0.218],[11.94,-0.41],[12.07,-0.365],[12.15,-0.384],[12.23,-0.263],[12.32,-0.342],[12.4,-0.225],[12.53,-0.542],[12.61,-0.338],[12.69,-0.467],[12.8,-0.31],[12.91,-0.712],[12.98,-0.429]];
const cutlerModel = [[1.0,-0.399],[1.12,-0.21],[1.25,-0.463],[1.35,-0.24],[1.47,-0.557],[1.58,-0.338],[1.67,-0.459],[1.8,-0.112],[1.91,-0.414],[2.0,-0.316],[2.15,-0.505],[2.26,-0.325],[2.36,-0.489],[2.46,-0.278],[2.56,-0.486],[2.63,-0.408],[2.7,-0.546],[2.81,-0.214],[2.91,-0.406],[2.98,-0.293],[3.08,-0.722],[3.19,-0.172],[3.3,-0.637],[3.4,-0.227],[3.51,-0.523],[3.6,-0.369],[3.71,-0.595],[3.81,-0.292],[3.9,-0.5],[3.99,-0.335],[4.05,-0.369],[4.17,-0.1],[4.28,-0.357],[4.32,-0.36],[4.42,-0.5],[4.51,-0.365],[4.6,-0.465],[4.7,-0.355],[4.83,-0.216],[4.93,-0.437],[5.01,-0.335],[5.07,-0.395],[5.18,-0.176],[5.3,-0.452],[5.4,-0.278],[5.49,-0.252],[5.63,-0.44],[5.77,-0.201],[5.9,-0.372],[5.98,-0.314],[6.09,-0.414],[6.19,-0.335],[6.28,-0.391],[6.35,-0.35],[6.45,-0.437],[6.57,-0.231],[6.67,-0.289],[6.76,-0.231],[6.87,-0.316],[6.97,-0.278],[7.12,-0.428],[7.21,-0.361],[7.34,-0.503],[7.46,-0.388],[7.6,-0.316],[7.75,-0.314],[7.83,-0.327],[7.9,-0.293],[8.01,-0.354],[8.1,-0.32],[8.23,-0.406],[8.4,-0.254],[8.49,-0.323],[8.58,-0.292],[8.7,-0.365],[8.78,-0.32],[8.84,-0.384],[8.96,-0.259],[9.07,-0.372],[9.17,-0.255],[9.34,-0.429],[9.48,-0.31],[9.56,-0.369],[9.68,-0.293],[9.78,-0.323],[9.91,-0.252],[10.05,-0.467],[10.27,-0.293],[10.36,-0.455],[10.47,-0.259],[10.55,-0.354],[10.6,-0.342],[10.69,-0.429],[10.81,-0.136],[10.91,-0.297],[10.96,-0.203],[11.07,-0.35],[11.15,-0.244],[11.24,-0.293],[11.38,-0.468],[11.5,-0.305],[11.59,-0.32],[11.64,-0.293],[11.7,-0.342],[11.81,-0.229],[11.91,-0.391],[12.01,-0.323],[12.12,-0.471],[12.23,-0.282],[12.33,-0.429],[12.42,-0.338],[12.53,-0.609],[12.62,-0.428],[12.7,-0.591],[12.8,-0.32],[12.91,-0.712],[12.98,-0.395]];

const eastportObs = [[1.0,-0.384],[1.12,-0.199],[1.23,-0.431],[1.33,-0.315],[1.46,-0.493],[1.6,-0.29],[1.66,-0.315],[1.78,-0.049],[1.91,-0.304],[2.0,-0.254],[2.16,-0.384],[2.26,-0.232],[2.36,-0.359],[2.46,-0.023],[2.57,-0.279],[2.64,-0.239],[2.71,-0.312],[2.8,-0.207],[2.9,-0.399],[2.97,-0.297],[3.08,-0.529],[3.19,-0.239],[3.29,-0.482],[3.41,-0.187],[3.51,-0.413],[3.6,-0.248],[3.7,-0.558],[3.83,-0.326],[3.9,-0.341],[3.99,-0.185],[4.05,-0.21],[4.15,-0.091],[4.25,-0.225],[4.36,-0.375],[4.48,-0.257],[4.58,-0.377],[4.66,-0.25],[4.74,-0.366],[4.84,-0.315],[4.91,-0.355],[5.01,-0.232],[5.09,-0.301],[5.19,-0.159],[5.28,-0.283],[5.4,-0.096],[5.5,-0.159],[5.62,-0.341],[5.8,-0.143],[5.93,-0.286],[6.05,-0.257],[6.18,-0.212],[6.29,-0.337],[6.39,-0.257],[6.47,-0.283],[6.58,-0.264],[6.64,-0.279],[6.74,-0.192],[6.88,-0.29],[7.01,-0.246],[7.13,-0.337],[7.24,-0.225],[7.36,-0.33],[7.44,-0.315],[7.52,-0.359],[7.66,-0.257],[7.78,-0.304],[7.91,-0.25],[8.02,-0.322],[8.13,-0.275],[8.29,-0.37],[8.41,-0.293],[8.5,-0.297],[8.59,-0.255],[8.67,-0.293],[8.76,-0.254],[8.86,-0.424],[8.99,-0.246],[9.09,-0.315],[9.18,-0.214],[9.3,-0.377],[9.44,-0.203],[9.56,-0.337],[9.68,-0.283],[9.81,-0.301],[9.93,-0.232],[10.05,-0.373],[10.26,-0.254],[10.38,-0.383],[10.5,-0.293],[10.61,-0.315],[10.71,-0.384],[10.8,-0.192],[10.89,-0.217],[10.96,-0.178],[11.07,-0.355],[11.18,-0.261],[11.28,-0.221],[11.4,-0.431],[11.52,-0.174],[11.63,-0.188],[11.73,-0.337],[11.83,-0.199],[11.93,-0.377],[12.05,-0.315],[12.15,-0.333],[12.22,-0.196],[12.32,-0.315],[12.4,-0.188],[12.51,-0.511],[12.61,-0.304],[12.68,-0.428],[12.78,-0.297],[12.89,-0.652],[12.98,-0.413]];
const eastportModel = [[1.0,-0.304],[1.12,-0.112],[1.23,-0.368],[1.33,-0.116],[1.46,-0.428],[1.56,-0.254],[1.65,-0.395],[1.78,-0.054],[1.91,-0.312],[2.0,-0.214],[2.14,-0.412],[2.26,-0.221],[2.35,-0.361],[2.44,-0.17],[2.54,-0.397],[2.62,-0.348],[2.71,-0.493],[2.81,-0.13],[2.9,-0.297],[2.96,-0.17],[3.08,-0.616],[3.19,-0.076],[3.29,-0.504],[3.4,-0.11],[3.52,-0.449],[3.6,-0.317],[3.68,-0.529],[3.81,-0.192],[3.89,-0.348],[3.98,-0.221],[4.05,-0.275],[4.16,-0.009],[4.27,-0.228],[4.32,-0.232],[4.41,-0.395],[4.5,-0.297],[4.59,-0.413],[4.68,-0.267],[4.72,-0.275],[4.82,-0.083],[4.93,-0.301],[5.0,-0.221],[5.07,-0.261],[5.17,-0.065],[5.28,-0.333],[5.4,-0.199],[5.48,-0.181],[5.62,-0.355],[5.75,-0.067],[5.89,-0.239],[5.97,-0.209],[6.09,-0.308],[6.17,-0.239],[6.29,-0.297],[6.35,-0.261],[6.43,-0.317],[6.58,-0.145],[6.66,-0.17],[6.76,-0.078],[6.87,-0.174],[6.95,-0.17],[7.11,-0.333],[7.21,-0.268],[7.33,-0.406],[7.46,-0.29],[7.58,-0.217],[7.72,-0.167],[7.83,-0.181],[7.89,-0.175],[8.01,-0.283],[8.11,-0.246],[8.22,-0.308],[8.39,-0.145],[8.48,-0.217],[8.58,-0.174],[8.66,-0.209],[8.74,-0.167],[8.86,-0.283],[8.95,-0.196],[9.05,-0.306],[9.18,-0.154],[9.33,-0.308],[9.47,-0.232],[9.54,-0.25],[9.65,-0.151],[9.78,-0.207],[9.89,-0.191],[10.04,-0.406],[10.25,-0.159],[10.36,-0.359],[10.46,-0.158],[10.56,-0.225],[10.61,-0.207],[10.71,-0.319],[10.8,-0.086],[10.9,-0.254],[10.98,-0.149],[11.07,-0.254],[11.17,-0.112],[11.28,-0.181],[11.4,-0.373],[11.5,-0.188],[11.59,-0.199],[11.7,-0.257],[11.81,-0.174],[11.91,-0.308],[12.0,-0.238],[12.1,-0.348],[12.22,-0.152],[12.32,-0.332],[12.4,-0.246],[12.51,-0.507],[12.59,-0.33],[12.68,-0.507],[12.78,-0.25],[12.89,-0.641],[12.98,-0.406]];

const obsSeries = [nantucketObs, woodsHoleObs, chathamObs, bostonObs, fortPointObs, wellsObs, portlandObs, barHarborObs, cutlerObs, eastportObs];
const run100fSeries = [nantucketModel, woodsHoleModel, chathamModel, bostonModel, fortPointModel, wellsModel, portlandModel, barHarborModel, cutlerModel, eastportModel];
const run100fOnlineSeries = [nantucketModel, woodsHoleModel, chathamModel, bostonModel, fortPointModel, wellsModel, portlandModel, barHarborModel, cutlerModel, eastportModel];

// ---------------- layout / style ----------------
const colX = [78, 1337], axW = 1199;
const rowY0 = 37, rowPitch = 387, axH = 326;
const colors = {obs:"#ff0000", run:"#008000", online:"#0000ff"};
const fmt = d3.format(".1f");

const svg = d3.select("#chart");
svg.append("rect").attr("width",2550).attr("height",1950).attr("fill","#fff");

stationTitles.forEach((title, i) => {
  const col = i % 2, row = Math.floor(i / 2);
  const x0 = colX[col], y0 = rowY0 + row * rowPitch;
  const xS = d3.scaleLinear().domain(xDomain).range([0, axW]);
  const yS = d3.scaleLinear().domain(yLimits[i]).range([axH, 0]);
  const g = svg.append("g").attr("transform", `translate(${x0},${y0})`);

  const clipId = "clip" + i;
  g.append("clipPath").attr("id", clipId).append("rect").attr("width", axW).attr("height", axH);

  const line = d3.line().x(d => xS(d[0])).y(d => yS(d[1])).curve(d3.curveMonotoneX);
  const plot = g.append("g").attr("clip-path", `url(#${clipId})`);
  plot.append("path").datum(obsSeries[i]).attr("d", line)
    .attr("fill","none").attr("stroke", colors.obs).attr("stroke-width", 2.6)
    .attr("stroke-dasharray", "17,4.5,3,4.5").attr("stroke-linejoin","round");
  plot.append("path").datum(run100fSeries[i]).attr("d", line)
    .attr("fill","none").attr("stroke", colors.run).attr("stroke-width", 1.3);
  plot.append("path").datum(run100fOnlineSeries[i]).attr("d", line)
    .attr("fill","none").attr("stroke", colors.online).attr("stroke-width", 1.3);

  // axes
  const xAxis = d3.axisBottom(xS).tickValues(xTicks).tickFormat(d3.format("d")).tickSize(5).tickPadding(5);
  const yAxis = d3.axisLeft(yS).tickValues(yTickSets[i]).tickFormat(fmt).tickSize(5).tickPadding(5);
  const gx = g.append("g").attr("transform", `translate(0,${axH})`).call(xAxis);
  const gy = g.append("g").call(yAxis);
  [gx, gy].forEach(a => {
    a.select(".domain").remove();
    a.selectAll("text").attr("font-size", 13.9).attr("fill","#000").attr("font-family","DejaVu Sans");
    a.selectAll("line").attr("stroke","#000").attr("stroke-width",1.1);
  });
  g.append("rect").attr("width", axW).attr("height", axH)
    .attr("fill","none").attr("stroke","#000").attr("stroke-width",1.1);

  g.append("text").attr("x", axW/2).attr("y", -8.5).attr("text-anchor","middle")
    .attr("font-size", 18).attr("fill","#000").text(title);

  if (col === 0) {
    g.append("text").attr("transform", `translate(${20 - x0 + 5},${axH/2}) rotate(-90)`)
      .attr("text-anchor","middle").attr("font-size", 13.9).attr("fill","#000").text("Elevation (m)");
  }

  if (i === 0) {
    const lg = g.append("g").attr("transform", `translate(${axW - 166},7)`);
    lg.append("rect").attr("width",159).attr("height",67).attr("rx",3)
      .attr("fill","#fff").attr("fill-opacity",0.8).attr("stroke","#cccccc").attr("stroke-width",1.1);
    const styles = [
      {c: colors.obs, w: 2.6, dash: "17,4.5,3,4.5"},
      {c: colors.run, w: 1.3, dash: null},
      {c: colors.online, w: 1.3, dash: null}
    ];
    seriesNames.forEach((name, k) => {
      const yy = 12 + k * 21;
      const l = lg.append("line").attr("x1",5).attr("x2",33).attr("y1",yy).attr("y2",yy)
        .attr("stroke", styles[k].c).attr("stroke-width", styles[k].w);
      if (styles[k].dash) l.attr("stroke-dasharray", styles[k].dash);
      lg.append("text").attr("x",44).attr("y",yy+5).attr("font-size",13.9).attr("fill","#000").text(name);
    });
  }
});
</script>
</body></html>
